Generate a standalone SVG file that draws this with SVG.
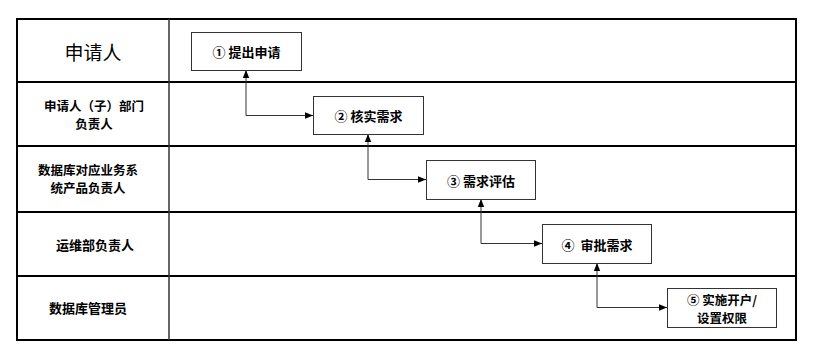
<svg xmlns="http://www.w3.org/2000/svg" width="819" height="355" viewBox="0 0 819 355">
<style>
.lane{fill:none;stroke:#000;stroke-width:2}
.div{stroke:#333;stroke-width:1.5}
.box{fill:#fff;stroke:#333;stroke-width:1}
.t{font-family:"Noto Sans CJK SC","Noto Sans",sans-serif;font-size:13px;font-weight:bold;fill:#000;text-anchor:middle;dominant-baseline:central}
.s{font-size:12.5px}
.big{font-size:19px;font-weight:normal}
.c{fill:none;stroke:#333;stroke-width:1}
</style>
<defs>
<marker id="ah" viewBox="0 0 10 10" refX="10" refY="5" markerWidth="8" markerHeight="8" markerUnits="userSpaceOnUse" orient="auto-start-reverse">
<path d="M0,1 L10,5 L0,9 z" fill="#000"/>
</marker>
</defs>
<rect width="819" height="355" fill="#fff"/>
<g id="lanes">
<rect class="lane" x="17" y="19" width="779" height="321"/>
<line class="lane" x1="17" y1="82" x2="796" y2="82"/>
<line class="lane" x1="17" y1="146" x2="796" y2="146"/>
<line class="lane" x1="17" y1="212" x2="796" y2="212"/>
<line class="lane" x1="17" y1="276" x2="796" y2="276"/>
<line class="div" x1="169" y1="19" x2="169" y2="340"/>
<text class="t big" x="93" y="51">申请人</text>
<text class="t s" x="94" y="105">申请人（子）部门<tspan x="94" dy="18.3">负责人</tspan></text>
<text class="t s" x="88" y="169">数据库对应业务系<tspan x="88" dy="18.3">统产品负责人</tspan></text>
<text class="t" x="95" y="244">运维部负责人</text>
<text class="t" x="88" y="307">数据库管理员</text>
</g>
<g id="connectors">
<path class="c" d="M246,70 V115.5 H313" marker-start="url(#ah)" marker-end="url(#ah)"/>
<path class="c" d="M368,134 V179.5 H426" marker-start="url(#ah)" marker-end="url(#ah)"/>
<path class="c" d="M481,199 V243.5 H542" marker-start="url(#ah)" marker-end="url(#ah)"/>
<path class="c" d="M597,263 V307.5 H667" marker-start="url(#ah)" marker-end="url(#ah)"/>
</g>
<g id="n1">
<rect class="box" x="191.5" y="32.5" width="110" height="38"/>
<text class="t" x="246.5" y="51">① 提出申请</text>
</g>
<g id="n2">
<rect class="box" x="313.5" y="96.5" width="110" height="38"/>
<text class="t" x="368.5" y="115">② 核实需求</text>
</g>
<g id="n3">
<rect class="box" x="426.5" y="160.5" width="109" height="39"/>
<text class="t" x="481" y="180">③ 需求评估</text>
</g>
<g id="n4">
<rect class="box" x="542.5" y="224.5" width="109" height="39"/>
<text class="t" x="597" y="244" xml:space="preserve">④  审批需求</text>
</g>
<g id="n5">
<rect class="box" x="667.5" y="288.5" width="109" height="39"/>
<text class="t s" x="722" y="299">⑤ 实施开户/<tspan x="722" dy="18.3">设置权限</tspan></text>
</g>
</svg>
